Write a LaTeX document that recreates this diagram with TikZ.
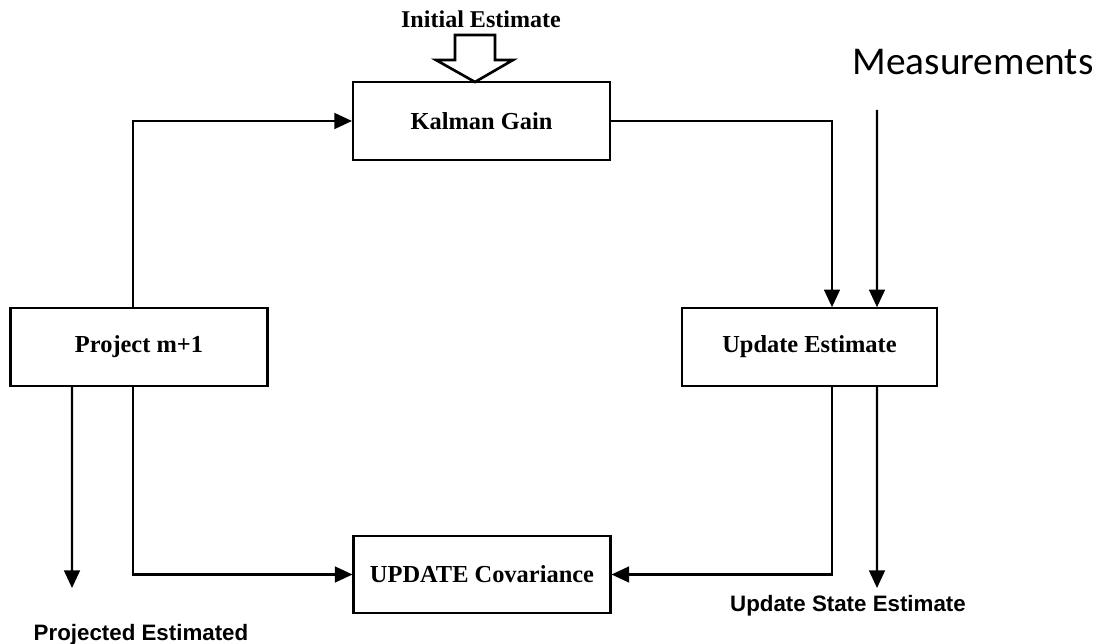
\documentclass[tikz,border=0pt]{standalone}
\usepackage{fontspec}
\setmainfont{Liberation Serif}
\newfontfamily\labelfont{Liberation Sans}
\newfontfamily\measfont{Carlito}
\usepackage{tikz}
\usetikzlibrary{arrows.meta, calc, positioning}
\tikzstyle{arrow} = [line width=1.2pt, -{Triangle[length=10pt, width=9pt]}]
\tikzstyle{block} = [draw, line width=1.2pt, rectangle, minimum width=5.14cm, minimum height=1.55cm, font=\fontsize{13.9}{16}\selectfont\bfseries]
\tikzstyle{outlabel} = [font=\labelfont\fontsize{12.7}{15}\selectfont\bfseries]

\begin{document}
\begin{tikzpicture}[x=0.02cm, y=-0.02cm]
                    \useasboundingbox (0, 0) rectangle (1104, 644);
                    \node[block] (kalman) at (481.5, 121) {Kalman Gain};
                    \node[block] (project) at (139, 347) {Project m+1};
                    \node[block, minimum width=5.1cm] (update) at (809.5, 347) {Update Estimate};
                    \node[block] (cov) at (482, 574.5) {UPDATE Covariance};
                    \node[font=\fontsize{13.7}{16}\selectfont\bfseries] (init) at (481, 19) {Initial Estimate};
                    \node[font=\measfont\fontsize{22.4}{26}\selectfont] (meas) at (973, 62) {Measurements};
                    \node[outlabel] (projout) at (141, 635) {Projected Estimated};
                    \node[outlabel] (updout) at (848, 606) {Update State Estimate};
                    \coordinate (measin) at (877, 110);
                    \coordinate (projend) at (72, 588);
                    \coordinate (updend) at (877, 588);
                    % hollow arrow for the initial estimate
                    \draw[line width=1.5pt, fill=white] (455, 35) -- (495, 35) -- (495, 60) -- (513, 60) -- (475, 82)
                          -- (436, 60) -- (455, 60) -- cycle;
                    \draw[arrow] ([xshift=-0.12cm]project.north) |- (kalman.west);
                    \draw[arrow] (kalman.east) -| ([xshift=0.45cm]update.north);
                    \draw[arrow] (measin) -- ([xshift=1.35cm]update.north);
                    \draw[arrow] ([xshift=-1.34cm]project.south) -- (projend);
                    \draw[arrow] ([xshift=-0.12cm]project.south) |- (cov.west);
                    \draw[arrow] ([xshift=0.45cm]update.south) |- (cov.east);
                    \draw[arrow] ([xshift=1.35cm]update.south) -- (updend);
                \end{tikzpicture}
\end{document}
